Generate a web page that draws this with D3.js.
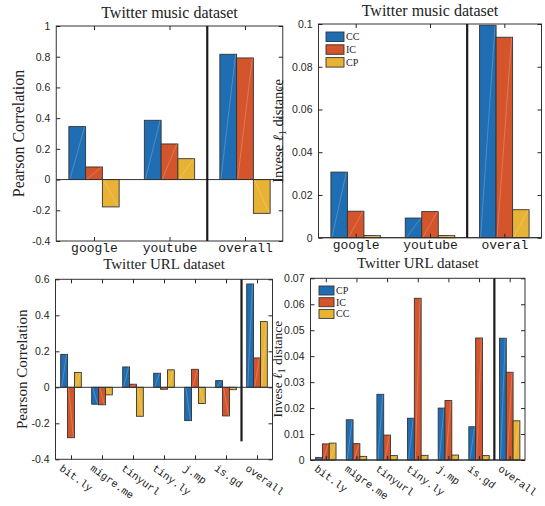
<!DOCTYPE html>
<html>
<head>
<meta charset="utf-8">
<script src="https://cdn.jsdelivr.net/npm/d3@7"></script>
<style>
  body { margin: 0; background: #fff; }
  .tick line { stroke: #262626; }
</style>
</head>
<body>
<svg id="chart" width="545" height="506"></svg>
<script>
// values
const musicCats = ["google", "youtube", "overall"];
const musicCatsL1 = ["google", "youtube", "overal"];
const musicPearsonCC = [0.345, 0.386, 0.816];
const musicPearsonIC = [0.082, 0.232, 0.792];
const musicPearsonCP = [-0.178, 0.136, -0.22];
const musicL1CC = [0.0307, 0.0092, 0.0994];
const musicL1IC = [0.0124, 0.0122, 0.0938];
const musicL1CP = [0.001, 0.001, 0.0131];

const urlCats = ["bit.ly", "migre.me", "tinyurl", "tiny.ly", "j.mp", "is.gd", "overall"];
const urlPearsonCC = [0.183, -0.094, 0.113, 0.078, -0.185, 0.037, 0.574];
const urlPearsonIC = [-0.28, -0.097, 0.017, -0.011, 0.1, -0.159, 0.163];
const urlPearsonCP = [0.082, -0.042, -0.161, 0.097, -0.09, -0.013, 0.365];
const urlL1CP = [0.001, 0.0155, 0.0253, 0.0161, 0.02, 0.0128, 0.0469];
const urlL1IC = [0.0062, 0.0063, 0.0096, 0.0623, 0.0229, 0.047, 0.0338];
const urlL1CC = [0.0065, 0.0014, 0.0017, 0.0018, 0.0019, 0.0017, 0.0151];

const pearsonTicks = [-0.4, -0.2, 0, 0.2, 0.4, 0.6, 0.8, 1];
const musicL1Ticks = [0, 0.02, 0.04, 0.06, 0.08, 0.1];
const urlPearsonTicks = [-0.4, -0.2, 0, 0.2, 0.4, 0.6];
const urlL1Ticks = [0, 0.01, 0.02, 0.03, 0.04, 0.05, 0.06, 0.07];

const musicLegend = ["CC", "IC", "CP"];
const urlLegend = ["CP", "IC", "CC"];

const colors = ["#1F6EB4", "#D4552B", "#E8B335"];
const serif = "'Liberation Serif', 'Times New Roman', serif";
const sans = "'Liberation Sans', Arial, sans-serif";
const mono = "'Liberation Mono', 'Courier New', monospace";

const svg = d3.select("#chart");
const fmt = d => d === 0 ? "0" : String(+d.toFixed(3));

function drawPanel(p) {
  const g = svg.append("g");
  const n = p.cats.length;
  const x = d3.scaleLinear().domain([0.5, n + 0.5]).range([p.left, p.right]);
  const y = d3.scaleLinear().domain(p.yDomain).range([p.bottom, p.top]);
  const bw = 0.222; // bar width, category units
  const ns = p.series.length;

  // bars
  p.series.forEach((vals, k) => {
    const off = (k - (ns - 1) / 2) * bw;
    const bars = g.append("g").selectAll("g").data(vals).join("g");
    bars.append("rect")
      .attr("x", (d, i) => x(i + 1 + off - bw / 2))
      .attr("width", x(bw) - x(0))
      .attr("y", d => y(Math.max(d, 0)))
      .attr("height", d => Math.abs(y(d) - y(0)))
      .attr("fill", colors[k])
      .attr("stroke", "#333")
      .attr("stroke-width", 0.9);
    // faint diagonal seam seen in the original render
    bars.append("line")
      .attr("x1", (d, i) => x(i + 1 + off - bw / 2) + 1)
      .attr("y1", y(0))
      .attr("x2", (d, i) => x(i + 1 + off + bw / 2) - 1)
      .attr("y2", d => y(d))
      .attr("stroke", "#fff")
      .attr("stroke-opacity", 0.3)
      .attr("stroke-width", 0.7);
  });

  // zero baseline
  g.append("line")
    .attr("x1", p.left).attr("x2", p.right)
    .attr("y1", y(0)).attr("y2", y(0))
    .attr("stroke", "#333").attr("stroke-width", 1);

  // axes box
  g.append("rect")
    .attr("x", p.left).attr("y", p.top)
    .attr("width", p.right - p.left).attr("height", p.bottom - p.top)
    .attr("fill", "none").attr("stroke", "#333").attr("stroke-width", 1);

  // y axis left with labels
  const ya = g.append("g")
    .attr("transform", `translate(${p.left},0)`)
    .call(d3.axisLeft(y).tickValues(p.yTicks).tickFormat(fmt)
      .tickSizeInner(-4).tickSizeOuter(0).tickPadding(6));
  ya.select(".domain").remove();
  ya.selectAll("text").attr("font-family", sans).attr("font-size", 10.5).attr("fill", "#262626");

  // mirrored ticks on the right
  g.append("g")
    .attr("transform", `translate(${p.right},0)`)
    .call(d3.axisRight(y).tickValues(p.yTicks).tickFormat("")
      .tickSizeInner(-4).tickSizeOuter(0))
    .select(".domain").remove();

  // x axis bottom
  const xa = g.append("g")
    .attr("transform", `translate(0,${p.bottom})`)
    .call(d3.axisBottom(x).tickValues(d3.range(1, n + 1)).tickFormat(i => p.cats[i - 1])
      .tickSizeInner(-4).tickSizeOuter(0).tickPadding(2));
  xa.select(".domain").remove();
  xa.selectAll("text")
    .attr("font-family", mono).attr("font-size", p.xFont).attr("fill", "#1a1a1a");
  if (p.rotate) {
    xa.selectAll("text")
      .attr("x", 0).attr("y", 0).attr("dy", "0.75em")
      .attr("text-anchor", "start")
      .attr("transform", "translate(-8,4) rotate(36)");
  }

  // mirrored ticks on top
  g.append("g")
    .attr("transform", `translate(0,${p.top})`)
    .call(d3.axisTop(x).tickValues(d3.range(1, n + 1)).tickFormat("")
      .tickSizeInner(-4).tickSizeOuter(0))
    .select(".domain").remove();

  // divider between sites and overall
  g.append("line")
    .attr("x1", x(p.divider)).attr("x2", x(p.divider))
    .attr("y1", y(p.dividerExtent[0])).attr("y2", y(p.dividerExtent[1]))
    .attr("stroke", "#1a1a1a").attr("stroke-width", 2.2);

  // title
  g.append("text")
    .attr("x", (p.left + p.right) / 2).attr("y", p.titleY)
    .attr("text-anchor", "middle")
    .attr("font-family", serif).attr("font-size", p.titleSize).attr("fill", "#222")
    .text(p.title);

  // y label
  const yl = g.append("text")
    .attr("transform", `translate(${p.ylabelX},${(p.top + p.bottom) / 2}) rotate(-90)`)
    .attr("text-anchor", "middle")
    .attr("font-family", serif).attr("font-size", p.ylabelSize).attr("fill", "#222");
  if (p.ylabel === "l1") {
    yl.append("tspan").text("Invese ");
    yl.append("tspan").attr("font-style", "italic").text("ℓ");
    yl.append("tspan").attr("font-size", p.ylabelSize * 0.7).attr("dy", 3).text("1");
    yl.append("tspan").attr("dy", -3).text(" distance");
  } else {
    yl.text(p.ylabel);
  }

  // legend
  if (p.legend) {
    const lg = g.append("g").attr("transform", `translate(${p.left + p.legend.dx},${p.top + p.legend.dy})`);
    p.legend.labels.forEach((lab, k) => {
      lg.append("rect")
        .attr("x", 0).attr("y", k * p.legend.step)
        .attr("width", p.legend.w).attr("height", p.legend.h)
        .attr("fill", colors[k]).attr("stroke", "#333").attr("stroke-width", 0.9);
      lg.append("text")
        .attr("x", p.legend.w + 2).attr("y", k * p.legend.step + p.legend.h / 2)
        .attr("dy", "0.35em")
        .attr("font-family", serif).attr("font-size", 10).attr("fill", "#222")
        .text(lab);
    });
  }
}

drawPanel({
  left: 56.25, right: 282.75, top: 26, bottom: 241,
  cats: musicCats, yDomain: [-0.4, 1], yTicks: pearsonTicks,
  series: [musicPearsonCC, musicPearsonIC, musicPearsonCP],
  xFont: 13, rotate: false,
  divider: 2.5, dividerExtent: [-0.4, 1],
  title: "Twitter music dataset", titleY: 18, titleSize: 16,
  ylabel: "Pearson Correlation", ylabelX: 24, ylabelSize: 16
});

drawPanel({
  left: 318.5, right: 541.5, top: 24, bottom: 237.7,
  cats: musicCatsL1, yDomain: [0, 0.1], yTicks: musicL1Ticks,
  series: [musicL1CC, musicL1IC, musicL1CP],
  xFont: 13, rotate: false,
  divider: 2.5, dividerExtent: [0, 0.1],
  title: "Twitter music dataset", titleY: 16, titleSize: 16,
  ylabel: "l1", ylabelX: 283, ylabelSize: 14.5,
  legend: { labels: musicLegend, dx: 7.5, dy: 8, w: 18, h: 9.5, step: 12.8 }
});

drawPanel({
  left: 55.5, right: 272.5, top: 279.3, bottom: 459.3,
  cats: urlCats, yDomain: [-0.4, 0.6], yTicks: urlPearsonTicks,
  series: [urlPearsonCC, urlPearsonIC, urlPearsonCP],
  xFont: 10.5, rotate: true,
  divider: 6.5, dividerExtent: [-0.3, 0.6],
  title: "Twitter URL dataset", titleY: 269, titleSize: 15,
  ylabel: "Pearson Correlation", ylabelX: 27, ylabelSize: 15
});

drawPanel({
  left: 310.5, right: 525, top: 278.3, bottom: 460,
  cats: urlCats, yDomain: [0, 0.07], yTicks: urlL1Ticks,
  series: [urlL1CP, urlL1IC, urlL1CC],
  xFont: 10.5, rotate: true,
  divider: 6.5, dividerExtent: [0, 0.07],
  title: "Twitter URL dataset", titleY: 268, titleSize: 15,
  ylabel: "l1", ylabelX: 282, ylabelSize: 13.5,
  legend: { labels: urlLegend, dx: 8.5, dy: 7.7, w: 15, h: 9, step: 11.7 }
});
</script>
</body>
</html>
